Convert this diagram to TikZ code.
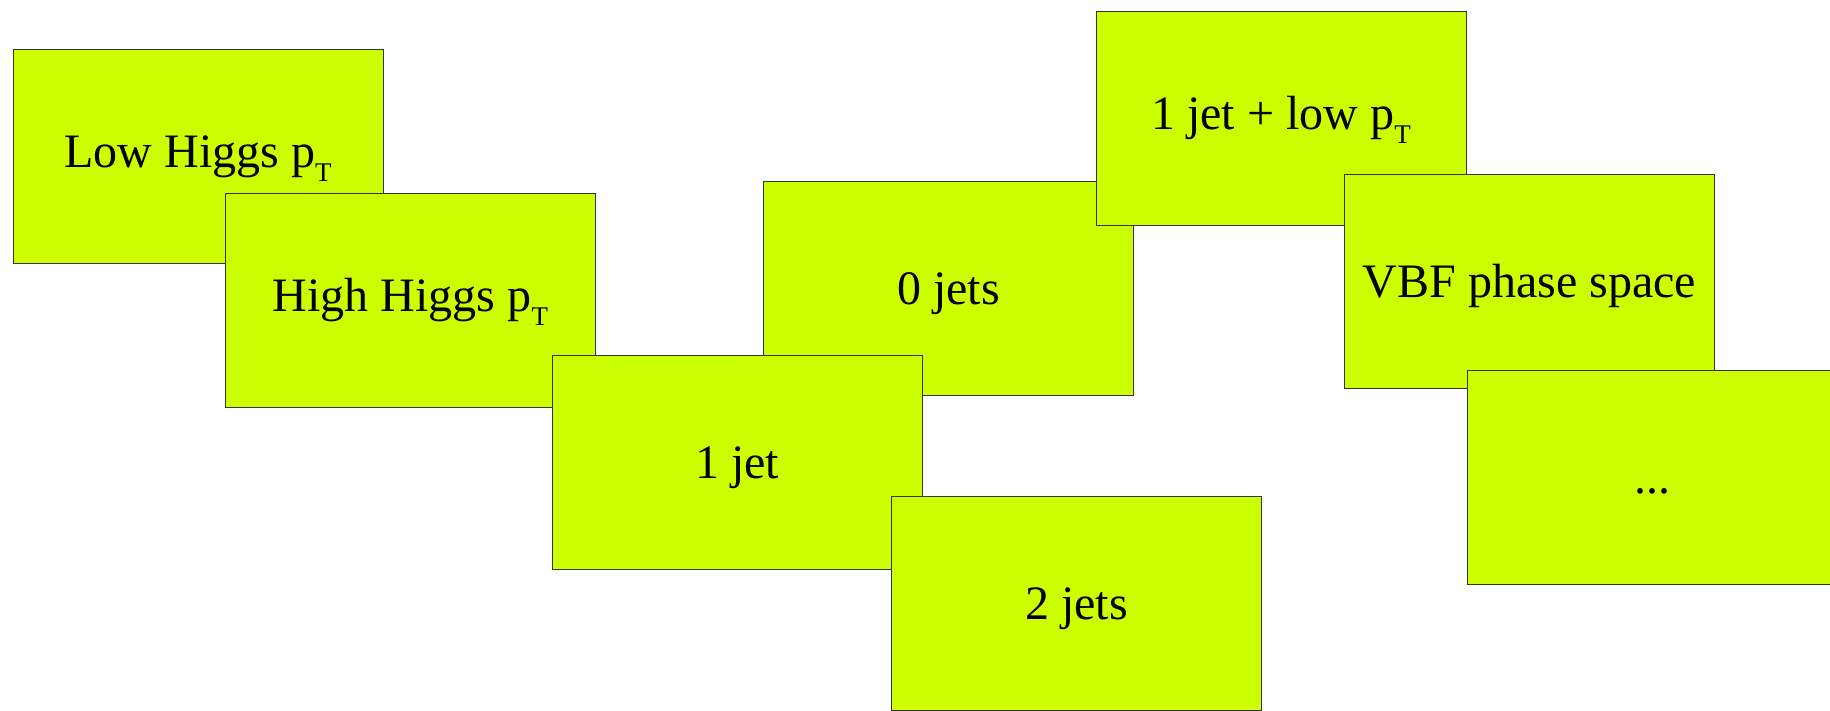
\documentclass[tikz,border=0pt]{standalone}
\usepackage{fontspec}
\setmainfont{Liberation Serif}
\definecolor{lime}{HTML}{CCFF00}
\newcommand{\pTsub}{p\raisebox{-0.3em}{\fontsize{27}{27}\selectfont T}}
\tikzset{
  card/.style={draw=black!80, line width=1pt, fill=lime, minimum width=370pt, minimum height=214pt, inner sep=0pt, anchor=center, font=\fontsize{48}{50}\selectfont, text height=32pt, text depth=0pt},
  subcard/.style={card, text height=23pt}
}
\begin{document}
\begin{tikzpicture}[x=1pt,y=-1pt]
\useasboundingbox (0,0) rectangle (1830,710);
\node[subcard] (low) at (198,156) {Low Higgs \pTsub};
\node[subcard] (high) at (410.5,300) {High Higgs \pTsub};
\node[card] (zero) at (948.5,288) {0 jets};
\node[card] (one) at (737,462) {1 jet};
\node[card] (two) at (1076.5,603) {2 jets};
\node[subcard] (onelow) at (1281,118) {1 jet + low \pTsub};
\node[card] (vbf) at (1529.5,281) {VBF phase space};
\node[card] (more) at (1652,477) {...};
\end{tikzpicture}
\end{document}
